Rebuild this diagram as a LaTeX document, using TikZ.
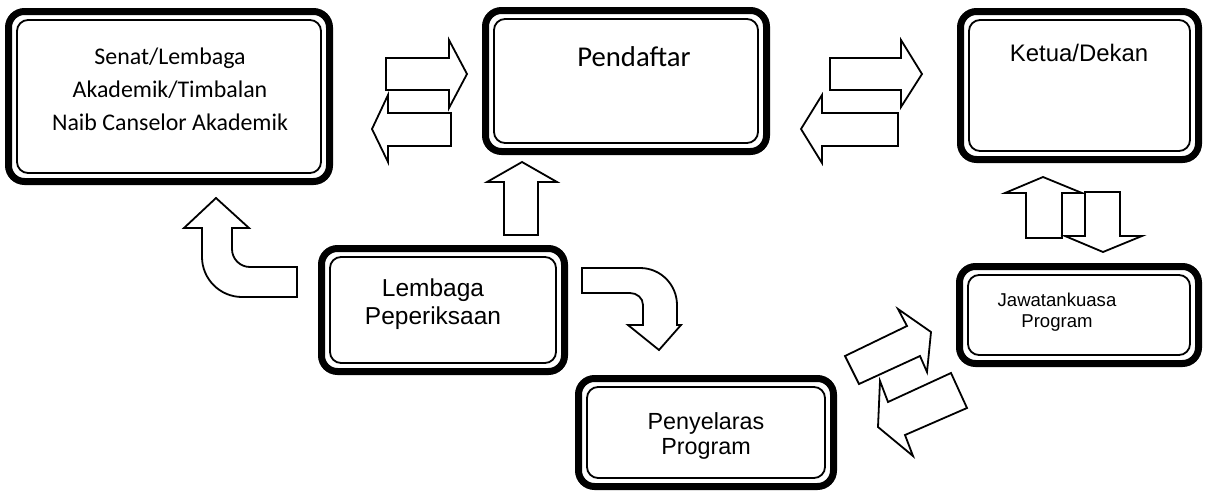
\documentclass[tikz,border=0pt]{standalone}
\usepackage{fontspec}
\setmainfont{Liberation Sans}
\newfontfamily\calfont{Carlito}
\newlength\pu
\setlength\pu{0.025cm}

\tikzset{
  box/.style={draw, line width=7\pu, rounded corners=16\pu, outer sep=0pt, inner sep=0pt},
  boxin/.style={draw, line width=1.8\pu, rounded corners=11\pu},
  barrow/.style={draw, line width=1.8\pu, fill=white, line join=miter},
  txt/.style={inner sep=0pt, align=center},
}

\begin{document}
\begin{tikzpicture}[x=0.025cm,y=-0.025cm]

\useasboundingbox (0,0) rectangle (1206,494);

% boxes
\node[box, minimum width=321\pu, minimum height=170\pu] (senat) at (169,96.5) {};
\node[box, minimum width=281\pu, minimum height=141\pu] (daftar) at (626,81) {};
\node[box, minimum width=238\pu, minimum height=148\pu] (ketua) at (1079.5,85.5) {};
\node[box, minimum width=243\pu, minimum height=123\pu] (lembaga) at (443,310) {};
\node[box, minimum width=255\pu, minimum height=108\pu] (penyelaras) at (706,432.5) {};
\node[box, minimum width=239\pu, minimum height=97\pu] (jawatan) at (1079,315) {};

\foreach \b in {senat,daftar,ketua,lembaga,penyelaras,jawatan}
  \draw[boxin] ([shift={(8.5,8.5)}]\b.north west) rectangle ([shift={(-8.5,-8.5)}]\b.south east);

% texts
\node[txt, font=\calfont\fontsize{17}{23.5}\selectfont] (tsenat) at (170,89) {Senat/Lembaga\\Akademik/Timbalan\\Naib Canselor Akademik};
\node[txt, font=\calfont\fontsize{20.4}{24}\selectfont] (tdaftar) at (634,57) {Pendaftar};
\node[txt, font=\fontsize{17}{20}\selectfont] (tketua) at (1079,53) {Ketua/Dekan};
\node[txt, font=\fontsize{17.4}{19.6}\selectfont] (tlembaga) at (433,304) {Lembaga\\Peperiksaan};
\node[txt, font=\fontsize{16.6}{17.2}\selectfont] (tpenyelaras) at (706,436) {Penyelaras\\Program};
\node[txt, font=\fontsize{13.2}{15}\selectfont] (tjawatan) at (1057,312.5) {Jawatankuasa\\Program};

% senat <-> pendaftar
\draw[barrow] (386,58) -- (449,58) -- (449,40) -- (467,74) -- (449,108) -- (449,90) -- (386,90) -- cycle;
\draw[barrow] (451,113) -- (388,113) -- (388,95) -- (372,129) -- (388,162) -- (388,146) -- (451,146) -- cycle;

% pendaftar <-> ketua
\draw[barrow] (830,58) -- (901,58) -- (901,40) -- (922,74) -- (901,107) -- (901,90) -- (830,90) -- cycle;
\draw[barrow] (898,113) -- (822,113) -- (822,95) -- (801,129) -- (822,163) -- (822,146) -- (898,146) -- cycle;

% lembaga -> pendaftar
\draw[barrow] (504,235) -- (504,182) -- (487,182) -- (522,162) -- (557,182) -- (538,182) -- (538,235) -- cycle;

% jawatankuasa <-> ketua
\draw[barrow] (1026,238) -- (1026,193) -- (1005,193) -- (1043,177) -- (1082,193) -- (1062,193) -- (1062,238) -- cycle;
\draw[barrow] (1085,192) -- (1120,192) -- (1120,236) -- (1142,236) -- (1103,252) -- (1065,236) -- (1085,236) -- cycle;

% penyelaras <-> jawatankuasa
\draw[barrow] (845,356) -- (907,326) -- (898,309) -- (931,332) -- (927,372) -- (920,356) -- (859,384) -- cycle;
\draw[barrow] (951,373) -- (888,402) -- (880,381) -- (878,427) -- (913,456) -- (905,435) -- (967,408) -- cycle;

% lembaga -> senat (bent)
\draw[barrow] (297,297) -- (242,297) .. controls (220,297) and (202,279) .. (202,257) -- (202,228) -- (184,228) -- (216,198)
  -- (249,228) -- (232,228) -- (232,249) .. controls (232,259) and (240,267) .. (250,267) -- (297,267) -- cycle;

% lembaga -> penyelaras (bent)
\draw[barrow] (582,268) -- (640,268) .. controls (661,268) and (677,285) .. (677,305) -- (677,325) -- (681,325) -- (659,350)
  -- (628,325) -- (643,325) -- (643,305) .. controls (643,298) and (637,293) .. (630,293) -- (582,293) -- cycle;

\end{tikzpicture}
\end{document}
